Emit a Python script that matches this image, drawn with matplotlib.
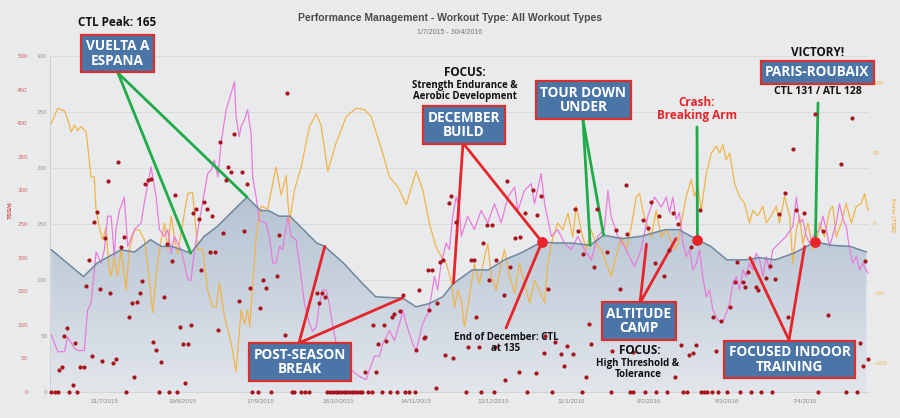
import numpy as np
import pandas as pd
import matplotlib
matplotlib.use('Agg')
import matplotlib.pyplot as plt
import matplotlib.dates as mdates
from matplotlib.colors import LinearSegmentedColormap

start = pd.Timestamp('2015-07-01')

# CTL (fitness) - days after 1/7/2015
ctl_days = [0, 12, 17, 26, 31, 37, 41, 45, 52, 57,
            62, 67, 73, 78, 81, 85, 89, 94, 99, 102,
            109, 116, 121, 129, 131, 136, 141, 146, 150, 157,
            163, 169, 175, 183, 188, 194, 201, 206, 213, 220,
            229, 234, 241, 246, 252, 259, 264, 270, 277, 285,
            291, 298, 304]
ctl_vals = [127, 103, 115, 127, 125, 136, 130, 130, 124, 139,
            148, 160, 174, 162, 162, 157, 157, 145, 133, 130,
            115, 97, 85, 84, 84, 76, 79, 85, 97, 109,
            109, 118, 124, 134, 133, 133, 131, 140, 137, 139,
            145, 145, 136, 130, 118, 118, 120, 118, 124, 134,
            131, 130, 125]

# ATL (fatigue)
atl_days = [0, 2.4, 4.9, 6.1, 8.6, 9.8, 12.3, 13.5, 14.8, 16.7,
            18.5, 19.8, 21.0, 22.3, 23.5, 24.1, 25.4, 27.2, 28.5, 31.0,
            33.5, 34.7, 37.2, 39.1, 40.3, 42.2, 43.4, 44.7, 45.9, 47.1,
            48.4, 49.6, 50.9, 52.1, 53.4, 55.9, 58.3, 59.6, 60.8, 62.1,
            63.3, 65.2, 67.1, 68.3, 68.9, 70.1, 70.8, 72.0, 73.2, 74.5,
            75.1, 76.4, 77.6, 80.1, 81.3, 82.6, 83.8, 85.1, 86.3, 88.2,
            89.4, 91.3, 92.5, 94.4, 96.3, 97.5, 98.8, 100.0, 101.2, 102.5,
            103.7, 105.0, 107.5, 111.2, 114.9, 117.4, 118.7, 120.5, 122.4, 123.6,
            126.1, 128.0, 129.9, 131.1, 132.4, 134.8, 136.1, 137.3, 138.5, 140.4,
            141.7, 142.9, 144.1, 145.4, 147.3, 148.5, 149.7, 151.0, 152.2, 152.9,
            155.3, 157.8, 160.3, 162.8, 165.3, 167.8, 170.3, 172.8, 174.0, 176.5,
            179.0, 180.2, 182.7, 184.0, 186.5, 188.9, 191.4, 193.9, 196.4, 198.9,
            201.4, 203.8, 206.3, 207.6, 208.8, 211.3, 213.8, 217.5, 220.0, 222.5,
            225.0, 227.5, 229.4, 230.6, 231.8, 233.1, 234.3, 235.6, 236.8, 238.1,
            239.3, 240.6, 241.8, 243.0, 244.3, 245.5, 246.8, 248.6, 250.5, 251.7,
            253.0, 254.2, 255.5, 256.7, 258.0, 259.2, 260.4, 261.7, 262.9, 264.2,
            265.4, 266.7, 267.9, 269.1, 271.6, 274.1, 276.6, 277.9, 279.1, 280.3,
            281.6, 282.8, 284.1, 286.6, 287.8, 289.1, 290.3, 292.8, 294.0, 295.3,
            296.5, 297.8, 299.0, 300.3, 301.5, 302.7, 304.6]
atl_vals = [51, 36, 36, 49, 39, 37, 37, 73, 79, 125,
            115, 127, 157, 157, 121, 145, 162, 174, 130, 145,
            151, 169, 201, 174, 145, 139, 145, 124, 139, 133,
            127, 115, 100, 100, 127, 162, 195, 198, 207, 192,
            222, 252, 267, 277, 246, 228, 237, 243, 252, 231,
            192, 174, 153, 151, 139, 115, 115, 130, 127, 157,
            139, 136, 115, 79, 61, 54, 58, 79, 91, 91,
            79, 58, 29, 21, 14, 11, 20, 32, 32, 43,
            55, 46, 61, 73, 61, 43, 37, 49, 61, 70,
            85, 103, 91, 115, 133, 127, 157, 174, 165, 139,
            157, 145, 162, 151, 168, 151, 174, 183, 162, 180,
            186, 168, 195, 168, 139, 145, 133, 127, 139, 127,
            118, 139, 145, 180, 157, 139, 130, 112, 127, 157,
            174, 165, 174, 160, 174, 154, 160, 133, 121, 127,
            109, 115, 127, 103, 85, 91, 73, 64, 63, 70,
            79, 97, 103, 91, 109, 103, 115, 109, 124, 118,
            103, 121, 109, 127, 133, 139, 148, 174, 151, 154,
            139, 133, 139, 145, 157, 145, 130, 151, 168, 154,
            148, 127, 115, 121, 109, 115, 106]

# TSB (form), right axis
tsb_days = [0, 2.4, 4.9, 6.1, 7.4, 8.6, 9.8, 11.1, 13.0, 14.8,
            16.0, 16.7, 17.9, 19.1, 20.4, 21.6, 22.3, 23.5, 24.7, 26.0,
            27.9, 29.1, 31.0, 32.8, 34.7, 35.9, 37.8, 39.1, 40.3, 42.2,
            43.4, 44.7, 45.9, 47.1, 49.0, 50.9, 52.7, 54.6, 56.5, 58.3,
            60.2, 61.5, 62.7, 64.6, 67.1, 68.9, 70.8, 72.0, 73.2, 74.0,
            76.4, 78.2, 80.7, 83.8, 85.7, 87.6, 88.8, 90.7, 93.2, 96.3,
            98.8, 100.6, 103.1, 106.2, 110.0, 113.7, 116.8, 119.3, 123.6, 126.1,
            129.2, 132.4, 136.1, 138.5, 141.0, 143.5, 145.4, 147.3, 149.1, 150.4,
            151.6, 152.9, 154.1, 155.9, 157.8, 159.7, 161.6, 162.8, 164.1, 165.9,
            167.8, 169.0, 170.9, 172.8, 174.6, 176.5, 178.4, 180.2, 182.1, 184.0,
            185.2, 187.1, 188.9, 190.8, 192.7, 194.5, 195.8, 197.6, 199.5, 201.4,
            203.2, 205.1, 207.0, 208.8, 210.7, 212.6, 214.4, 216.3, 218.2, 219.4,
            220.6, 221.9, 223.8, 225.6, 227.5, 229.4, 230.6, 232.5, 233.7, 235.0,
            236.8, 238.7, 239.9, 241.2, 242.4, 244.3, 246.2, 248.0, 249.3, 250.5,
            251.7, 253.0, 254.9, 256.7, 258.6, 260.4, 261.7, 263.5, 265.4, 266.7,
            268.5, 270.4, 271.6, 273.5, 275.4, 276.6, 277.9, 279.1, 280.3, 282.2,
            284.1, 285.3, 286.6, 288.4, 290.3, 291.5, 292.8, 294.7, 296.5, 298.4,
            300.3, 302.1, 303.4, 304.6]
tsb_vals = [71, 82, 80, 74, 65, 70, 66, 69, 65, 33,
            33, 9, -3, -12, -3, -34, -38, -24, -38, -19,
            -48, -19, -5, -5, -12, -29, -64, -38, -19, 0,
            -19, 5, -10, -22, 0, 21, 22, -19, -19, -48,
            -60, -60, -43, -67, -86, -106, -62, -72, -62, -74,
            -10, 12, 10, 40, 20, 34, 0, 24, 40, 69,
            78, 70, 37, 57, 76, 82, 81, 76, 50, 33,
            26, 13, 37, 24, 0, -17, -24, -29, -41, -60,
            -48, -55, -74, -53, -29, -43, -24, -15, -38, -48,
            -29, -19, -38, -50, -29, -43, -57, -41, -48, -57,
            -29, -10, 0, -5, 7, -10, 12, -5, -19, -5,
            -15, -19, -29, -38, -24, -10, -19, -3, 19, 21,
            9, 0, -10, 9, -10, -5, -10, -19, -15, 0,
            19, 31, 19, 26, 9, 35, 50, 55, 50, 56,
            45, 50, 28, 19, 14, 0, 9, 5, 12, 0,
            5, 12, 0, 19, 5, -29, -5, 5, -15, 0,
            -19, -15, 0, -10, 9, 12, -10, 0, 14, 0,
            12, 14, 21, 9]

# daily TSS
tss_days = [3.0, 3.8, 4.9, 5.9, 8.0, 9.0, 10.8, 12.0, 13.0, 14.0,
            15.0, 16.0, 17.0, 18.0, 19.0, 20.0, 21.0, 22.0, 23.0, 24.0,
            25.0, 26.0, 27.0, 29.0, 30.0, 31.0, 32.0, 33.0, 34.0, 35.0,
            36.0, 37.0, 38.0, 39.0, 41.0, 42.0, 43.0, 45.0, 46.0, 48.0,
            49.0, 50.0, 51.0, 52.0, 53.0, 54.0, 55.0, 56.0, 57.0, 58.0,
            59.0, 60.0, 61.0, 62.0, 63.0, 64.0, 65.0, 66.0, 67.0, 68.0,
            70.0, 71.0, 72.0, 73.0, 74.0, 78.0, 79.0, 80.0, 84.0, 85.0,
            87.0, 88.0, 99.0, 100.0, 101.0, 102.0, 117.0, 120.0, 121.0, 122.0,
            124.0, 125.0, 127.0, 128.0, 130.0, 131.0, 136.0, 137.0, 139.0, 139.5,
            140.5, 141.0, 142.0, 143.5, 144.0, 145.0, 146.0, 147.0, 148.5, 149.0,
            150.0, 151.0, 155.5, 156.6, 157.8, 158.5, 159.4, 161.0, 162.4, 163.4,
            164.3, 165.5, 166.0, 168.7, 169.4, 170.0, 171.0, 173.0, 174.3, 175.0,
            176.5, 179.6, 180.6, 181.0, 182.5, 183.7, 184.3, 185.4, 187.8, 190.0,
            191.4, 192.4, 194.5, 195.4, 196.4, 198.4, 199.6, 200.5, 201.4, 202.6,
            203.6, 207.3, 209.2, 210.5, 212.3, 214.5, 214.8, 216.9, 220.6, 222.5,
            223.8, 225.0, 226.6, 228.5, 230.3, 231.8, 232.8, 233.7, 234.7, 237.8,
            238.7, 239.3, 240.5, 241.8, 246.8, 247.8, 249.9, 253.0, 254.9, 255.7,
            258.0, 258.6, 259.8, 262.7, 263.5, 266.7, 267.9, 269.8, 271.6, 273.6,
            274.7, 276.6, 277.6, 280.6, 284.7, 287.8, 289.7, 294.7, 298.7, 301.5,
            302.7, 303.4, 304.5]
tss_vals = [33, 37, 83, 95, 10, 73, 37, 37, 158, 197,
            53, 253, 268, 153, 46, 229, 314, 147, 43, 49,
            342, 216, 230, 112, 132, 22, 134, 148, 165, 310,
            315, 317, 75, 63, 45, 141, 220, 195, 293, 97,
            71, 14, 72, 100, 267, 273, 258, 182, 282, 272,
            209, 262, 209, 92, 372, 237, 315, 335, 328, 384,
            136, 328, 239, 309, 155, 125, 166, 155, 172, 233,
            85, 445, 148, 132, 148, 142, 30, 99, 30, 71,
            100, 76, 112, 116, 121, 145, 63, 152, 81, 82,
            182, 122, 181, 6, 133, 193, 197, 55, 281, 292,
            50, 253, 67, 196, 197, 112, 67, 221, 248, 167,
            248, 67, 197, 145, 18, 314, 186, 229, 30, 230,
            267, 301, 28, 263, 291, 58, 84, 153, 74, 56,
            39, 68, 56, 273, 239, 205, 22, 101, 72, 186,
            272, 208, 61, 241, 153, 308, 235, 60, 256, 244,
            283, 192, 262, 172, 212, 266, 22, 250, 70, 55,
            216, 58, 70, 271, 112, 61, 106, 127, 164, 193,
            164, 156, 179, 156, 152, 169, 188, 168, 265, 296,
            111, 361, 271, 267, 413, 239, 114, 340, 407, 73,
            39, 195, 49]
# rest days (TSS = 0)
rest_days = [0, 1.2, 2.6, 6.7, 9.7, 28, 40, 44, 47, 75, 77, 82, 89.6, 90.4,
             93, 94.5, 96, 103, 104, 105, 106, 107, 108, 109, 110, 111, 112,
             113, 114, 115, 116, 118, 119.5, 123.5, 126.5, 129, 132, 133.5,
             135.5, 154.5, 160.4, 165.3, 177.6, 186.6, 197.8, 208.6, 215.7,
             216.8, 221.6, 225.7, 229.5, 235.8, 237, 242.5, 243.6, 244.7,
             246.3, 248.5, 251.9, 256.7, 260.8, 264.6, 268.7, 285.8, 296.6,
             300.7]

# key events sitting on the CTL line
event_days = [183, 241, 285]
event_ctl = [134, 136, 134]

x_ticks = ['2015-07-21', '2015-08-19', '2015-09-17', '2015-10-16', '2015-11-14',
           '2015-12-13', '2016-01-11', '2016-02-09', '2016-03-09', '2016-04-07']


def to_dates(days):
    return start + pd.to_timedelta(np.asarray(days, dtype=float), unit='D')


BG = '#e9eaec'
W, H = 900, 418
plt.rcParams['font.family'] = ['Liberation Sans', 'DejaVu Sans']

fig = plt.figure(figsize=(9, 4.18), dpi=100, facecolor=BG)
ax = fig.add_axes([50 / W, 26 / H, 819 / W, 336 / H])
ax.set_facecolor(BG)
ax_tsb = ax.twinx()
ax_atl = ax.twinx()
ax_tss = ax.twinx()

ctl_d = to_dates(ctl_days)
xmin = start - pd.Timedelta(hours=12)
xmax = start + pd.Timedelta(days=305)

# CTL area with vertical gradient
poly = ax.fill_between(ctl_d, ctl_vals, 0, color='none', lw=0)
cmap = LinearSegmentedColormap.from_list('ctl', ['#e2e6eb', '#c9d3de', '#b3c2d1'])
grad = np.linspace(0, 1, 256).reshape(-1, 1)
im = ax.imshow(grad, extent=[mdates.date2num(xmin), mdates.date2num(xmax), 0, 180],
               origin='lower', aspect='auto', cmap=cmap, zorder=1)
im.set_clip_path(poly.get_paths()[0], ax.transData)
ax.set_xlim(xmin, xmax)
ax.set_ylim(0, 300)
ax.set_yticks(range(0, 301, 50))
ax.grid(axis='y', color='#dadbdd', lw=0.7)
ax.set_axisbelow(True)

# TSB
ax_tsb.plot(to_dates(tsb_days), tsb_vals, color='#f2b449', lw=0.9)
ax_tsb.set_ylim(-120.7, 119.3)
ax_tsb.set_yticks([-100, -50, 0, 50, 100])

# ATL + CTL line
ax_atl.plot(to_dates(atl_days), atl_vals, color='#e67cdc', lw=0.9)
ax_atl.plot(ctl_d, ctl_vals, color='#6f879e', lw=1.1)
ax_atl.set_ylim(0, 300)
ax_atl.yaxis.set_visible(False)

# TSS dots
ax_tss.scatter(to_dates(tss_days), tss_vals, s=9, color='#a8141b', lw=0, zorder=3, clip_on=False)
ax_tss.scatter(to_dates(rest_days), np.zeros(len(rest_days)), s=9, color='#a8141b', lw=0,
               zorder=3, clip_on=False)
ax_tss.set_ylim(0, 500)
ax_tss.set_yticks(range(0, 501, 50))
ax_tss.yaxis.tick_left()
ax_tss.spines['left'].set_position(('outward', 14))

for a in (ax, ax_tsb, ax_atl, ax_tss):
    a.set_xlim(xmin, xmax)
    for s in a.spines.values():
        s.set_visible(False)
ax.spines['left'].set_visible(True)
ax.spines['left'].set_color('#cfd0d3')
ax.spines['left'].set_linewidth(0.7)
ax.spines['bottom'].set_visible(True)
ax.spines['bottom'].set_color('#d3d4d6')
ax.spines['bottom'].set_linewidth(0.7)

ax.set_xticks(pd.to_datetime(x_ticks))
ax.set_xticklabels([f'{d.day}/{d.month}/{d.year}' for d in pd.to_datetime(x_ticks)])
ax.tick_params(axis='x', length=0, labelsize=4.5, labelcolor='#8c8c8c', pad=5)
ax.tick_params(axis='y', length=0, labelsize=4.5, labelcolor='#9a9a9a', pad=2)
ax_tss.tick_params(axis='y', length=0, labelsize=4.5, labelcolor='#d46a6a', pad=2)
ax_tsb.tick_params(axis='y', length=0, labelsize=4.5, labelcolor='#f0b450', pad=3)

fig.text(10 / W, 1 - 210 / H, 'TSS/d', rotation=90, ha='center', va='center',
         fontsize=4.5, color='#cc4444', fontweight='bold')
fig.text(893 / W, 1 - 215 / H, 'Form (TSB)', rotation=270, ha='center', va='center',
         fontsize=4.5, color='#f0b450', fontweight='bold')

fig.text(450 / W, 1 - 18 / H, 'Performance Management - Workout Type: All Workout Types',
         ha='center', va='center', fontsize=7.5, color='#4a4a4a', fontweight='bold')
fig.text(450 / W, 1 - 33 / H, '1/7/2015 - 30/4/2016', ha='center', va='center',
         fontsize=5, color='#777777')

# annotations
GREEN = '#1eab48'
RED = '#e6252a'


def link(day, val, x, y, color):
    ax_atl.annotate('', xy=(mdates.date2num(to_dates([day])[0]), val), xycoords=ax.transData,
                    xytext=(x, H - y), textcoords='figure pixels', annotation_clip=False,
                    arrowprops=dict(arrowstyle='-', color=color, lw=2.0, shrinkA=0, shrinkB=0))


def box(x, y, txt, size=9.8):
    fig.text(x / W, 1 - y / H, txt, ha='center', va='center', color='white',
             fontsize=size, fontweight='bold', family='Open Sans', linespacing=1.05,
             bbox=dict(boxstyle='square,pad=0.33', fc='#4a75a6', ec='#d8302c', lw=1.6))


def label(x, y, txt, size=8.5, color='#111111'):
    fig.text(x / W, 1 - y / H, txt, ha='center', va='center', color=color,
             fontsize=size, fontweight='bold', family='Open Sans', linespacing=1.1)


link(52, 124, 118, 73, GREEN)
link(73, 174, 118, 73, GREEN)
link(102, 130, 299, 343, RED)
link(131, 84, 299, 343, RED)
link(150, 97, 463, 143, RED)
link(183, 134, 463, 143, RED)
link(183, 134, 506, 328, RED)
link(201, 131, 583, 120, GREEN)
link(206, 140, 583, 120, GREEN)
link(241, 136, 697, 127, GREEN)
link(222, 132, 640, 303, RED)
link(233, 137, 640, 303, RED)
link(285, 134, 818, 103, GREEN)
link(260.6, 120, 789, 340, RED)
link(281, 130, 789, 340, RED)

ax_atl.scatter(to_dates(event_days), event_ctl, s=45, color='#e8242a', zorder=5, clip_on=False)

label(117, 22, 'CTL Peak: 165', 8.4)
box(117.5, 53.5, 'VUELTA A\nESPANA')
box(300, 362, 'POST-SEASON\nBREAK')
label(465, 73, 'FOCUS:', 8.5)
label(465, 91, 'Strength Endurance &\nAerobic Development', 7)
box(464, 125, 'DECEMBER\nBUILD')
label(506, 343, 'End of December: CTL\nat 135', 7, '#111111')
box(583.5, 100, 'TOUR DOWN\nUNDER')
label(697, 109, 'Crash:\nBreaking Arm', 8.5, '#e6252a')
box(639, 321, 'ALTITUDE\nCAMP')
label(640, 350, 'FOCUS:', 8.5)
label(638, 369, 'High Threshold &\nTolerance', 7)
label(818, 52, 'VICTORY!', 8.5)
box(817.5, 72.5, 'PARIS-ROUBAIX')
label(818, 92, 'CTL 131 / ATL 128', 7.5)
box(789.5, 359.5, 'FOCUSED INDOOR\nTRAINING')

fig.savefig('out.png', dpi=100, facecolor=BG)
